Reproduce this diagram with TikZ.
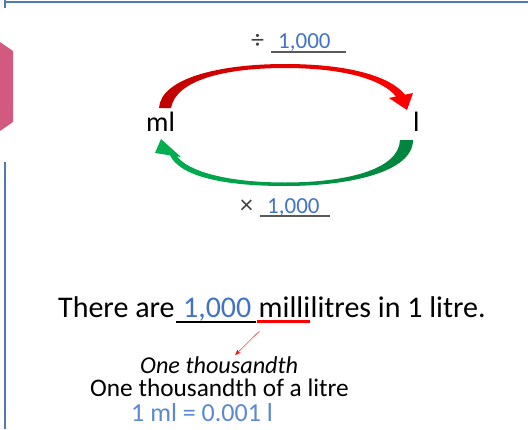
\documentclass[tikz,border=0pt]{standalone}
\usepackage{fontspec}
\setmainfont{Carlito}
\usetikzlibrary{arrows.meta,positioning,calc}

\definecolor{frameblue}{HTML}{4F7BB0}
\definecolor{numblue}{HTML}{4472C4}
\definecolor{eqblue}{HTML}{5B87D4}
\definecolor{tabpink}{HTML}{D25A80}
\definecolor{darkred}{HTML}{C00000}
\definecolor{darkgreen}{HTML}{00843D}
\definecolor{litegreen}{HTML}{00B050}
\definecolor{ulgray}{HTML}{595959}

\begin{document}
\begin{tikzpicture}[
  x=1pt, y=-1pt,
  >={Stealth[length=2mm]},
  txt/.style={inner sep=0pt, anchor=base west, text=black},
  unit/.style={txt, font=\fontsize{28}{32}\selectfont},
  op/.style={txt, text=black!75, font=\fontsize{26}{30}\selectfont},
  num/.style={txt, text=numblue, font=\fontsize{23}{27}\selectfont},
  big/.style={txt, font=\fontsize{30}{35}\selectfont},
  mid/.style={txt, font=\fontsize{25.3}{29}\selectfont},
  uline/.style={draw=ulgray, line width=1.3pt},
  redarc/.style={left color=darkred, right color=red},
  greenarc/.style={left color=litegreen, right color=darkgreen},
]
\useasboundingbox (0,0) rectangle (528,429);

% ---------- slide frame ----------
\draw[frameblue, line width=2pt] (4,1.5) -- (528,1.5);
\draw[frameblue, line width=2pt] (4.5,0) -- (4.5,8);
\draw[frameblue, line width=2pt] (4.5,162) -- (4.5,429);
\fill[tabpink] (0,42) -- (13,51) -- (13,122) -- (0,131) -- cycle;

% ---------- units ----------
\node[unit] (ml) at (146,131) {ml};
\node[unit] (l) at (413,131) {l};

% ---------- ml -> l : divide ----------
\node[op] (divop) at (251,48) {÷};
\node[num] (divn) at (278,48) {1,000};
\draw[uline] ([xshift=-7pt,yshift=-4pt]divn.base west) -- ([xshift=15pt,yshift=-4pt]divn.base east);
\shade[redarc] (159,108) .. controls (161,78) and (220,64) .. (285,64)
  .. controls (348,64) and (390,76) .. (405,94.7) -- (413,93) -- (407,110)
  -- (389,98) -- (396,96.5) .. controls (383,80) and (345,68) .. (285,68)
  .. controls (225,68) and (176,80) .. (171,108) -- cycle;

% ---------- l -> ml : multiply ----------
\node[op] (mulop) at (240,213) {×};
\node[num] (muln) at (267,213) {1,000};
\draw[uline] ([xshift=-7pt,yshift=-3pt]muln.base west) -- ([xshift=10pt,yshift=-3pt]muln.base east);
\shade[greenarc] (413,140) .. controls (413,172) and (350,186) .. (285,186)
  .. controls (222,186) and (180,176) .. (170,155.3) -- (155,153) -- (161,139)
  -- (181,157) -- (177,156.4) .. controls (188,171) and (226,182.5) .. (285,182.5)
  .. controls (345,182.5) and (399,170) .. (400,140) -- cycle;

% ---------- sentence ----------
\node[big] (there) at (58,317) {There are};
\node[big, text=numblue] (thou) at ([xshift=8pt]there.base east) {1,000};
\node[big] (milli) at ([xshift=7pt]thou.base east) {milli};
\node[big] (litres) at (milli.base east) {litres in 1 litre.};
\draw[line width=1.5pt] ([xshift=-7pt,yshift=-5pt]thou.base west) -- ([xshift=4pt,yshift=-5pt]thou.base east);
\draw[red, line width=3pt] ([xshift=-2pt,yshift=-4pt]milli.base west) -- ([yshift=-4pt]milli.base east);

% ---------- meaning of milli ----------
\node[mid, font=\fontsize{24.2}{28}\selectfont\itshape] (oneth) at (140,373) {One thousandth};
\node[mid] (onethl) at (90,396) {One thousandth of a litre};
\node[mid, font=\fontsize{26}{30}\selectfont, text=eqblue] (eq) at (131,421) {1 ml = 0.001 l};
\draw[->, red, >={Stealth[length=2mm,width=1.6mm]}] ([xshift=1pt,yshift=-14pt]milli.base west) -- ([xshift=16pt,yshift=1pt]oneth.north);

\end{tikzpicture}
\end{document}
